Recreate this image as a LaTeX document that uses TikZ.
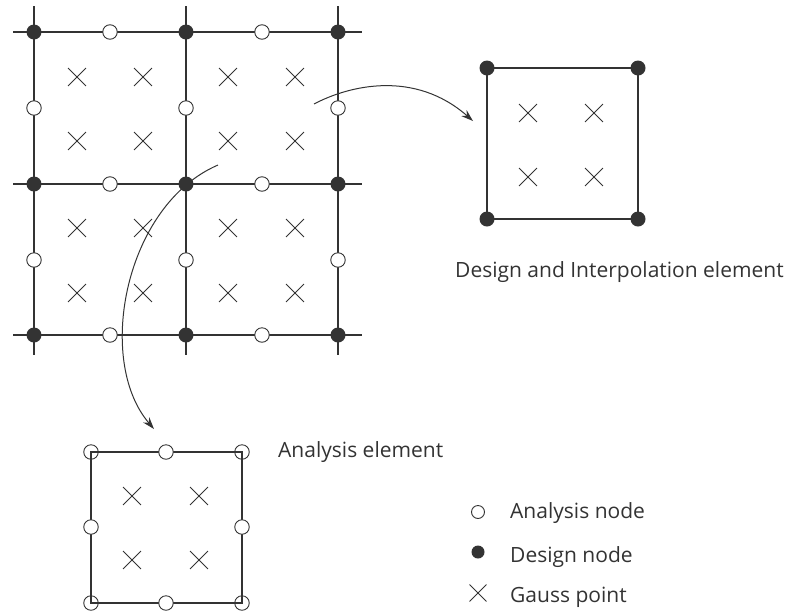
\documentclass[tikz,border=0pt]{standalone}
\usepackage{fontspec}
\setmainfont{Open Sans}
\usetikzlibrary{shapes.misc,arrows.meta}
\definecolor{ink}{HTML}{333333}
\begin{document}
\begin{tikzpicture}[x=1pt,y=-1pt,
  gridline/.style={draw=ink,line width=1.4pt},
  anode/.style={circle,draw=ink,fill=white,line width=0.9pt,minimum size=14.5pt,inner sep=0pt},
  cnode/.style={circle,draw=ink,line width=0.9pt,minimum size=14.5pt,inner sep=0pt},
  dnode/.style={circle,fill=ink,minimum size=15pt,inner sep=0pt},
  gauss/.style={cross out,draw=ink,line width=0.9pt,minimum size=17pt,inner sep=0pt},
  lbl/.style={font=\fontsize{21}{24}\selectfont,text=ink,inner sep=0pt,anchor=base west},
  arr/.style={draw=ink,line width=1pt,-{Stealth[length=12pt,width=8pt]}}]
\useasboundingbox (0,0) rectangle (795,614);
% ---------- mesh ----------
\foreach \x in {34,186,338} \draw[gridline] (\x,6) -- (\x,355);
\foreach \y in {32,184,335} \draw[gridline] (13,\y) -- (362,\y);
\foreach \x in {110,262} \foreach \y in {32,184,335}
  \node[anode] (ah-\x-\y) at (\x,\y) {};
\foreach \x in {34,186,338} \foreach \y in {108,260}
  \node[anode] (av-\x-\y) at (\x,\y) {};
\foreach \x in {34,186,338} \foreach \y in {32,184,335}
  \node[dnode] (d-\x-\y) at (\x,\y) {};
\foreach \x in {77,143,228,295} \foreach \y in {77,141,228,293}
  \node[gauss] (g-\x-\y) at (\x,\y) {};
% ---------- design element ----------
\draw[gridline] (487,68) rectangle (638,219);
\foreach \x in {487,638} \foreach \y in {68,219}
  \node[dnode] (de-\x-\y) at (\x,\y) {};
\foreach \x in {528,594} \foreach \y in {113,177}
  \node[gauss] (dg-\x-\y) at (\x,\y) {};
\node[lbl] (dlabel) at (455,277) {Design and Interpolation element};
% ---------- analysis element ----------
\draw[gridline] (91,452) rectangle (242,603);
\foreach \x in {91,242} \foreach \y in {452,603}
  \node[cnode] (ae-\x-\y) at (\x,\y) {};
\node[anode] (ae-top) at (166,452) {};
\node[anode] (ae-bot) at (166,603) {};
\node[anode] (ae-left) at (91,527) {};
\node[anode] (ae-right) at (242,527) {};
\foreach \x in {132,199} \foreach \y in {496,560}
  \node[gauss] (ag-\x-\y) at (\x,\y) {};
\node[lbl] (alabel) at (278,457) {Analysis element};
% ---------- arrows ----------
\coordinate (s1) at (314,104);
\coordinate (t1) at (473,121);
\draw[arr] (s1) .. controls (350,85) and (415,70) .. (t1);
\coordinate (s2) at (218,165);
\coordinate (t2) at (154,429);
\draw[arr] (s2) .. controls (125,205) and (95,360) .. (t2);
% ---------- legend ----------
\node[anode,minimum size=13pt] (lg-a) at (478,512) {};
\node[dnode,minimum size=13pt] (lg-d) at (478,552) {};
\node[gauss,minimum size=16pt] (lg-g) at (478,593) {};
\node[lbl] (lt-a) at (510,518) {Analysis node};
\node[lbl] (lt-d) at (510,562) {Design node};
\node[lbl] (lt-g) at (510,602) {Gauss point};
\end{tikzpicture}
\end{document}
